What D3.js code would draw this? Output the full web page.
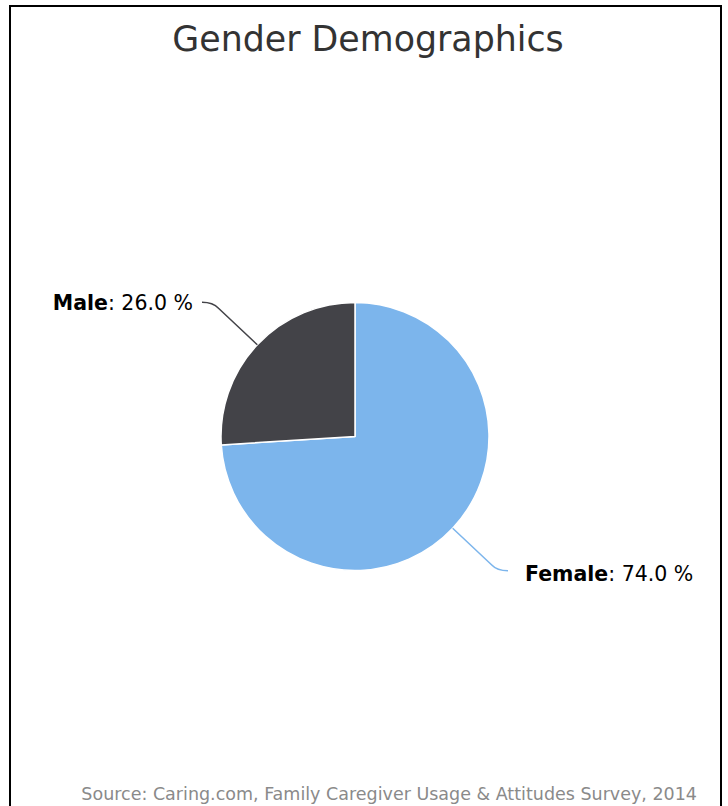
<!DOCTYPE html>
<html>
<head>
<meta charset="utf-8">
<script src="https://cdn.jsdelivr.net/npm/d3@7"></script>
<style>
  html, body { margin: 0; padding: 0; background: #fff; }
  svg { display: block; }
</style>
</head>
<body>
<svg id="chart" width="728" height="806"></svg>
<script>
const categories = ["Female", "Male"];
const values = [74.0, 26.0];
const colors = ["#7cb5ec", "#434348"];
const titleText = "Gender Demographics";
const sourceText = "Source: Caring.com, Family Caregiver Usage & Attitudes Survey, 2014";

const W = 728, H = 806;
const svg = d3.select("#chart");
const font = "'DejaVu Sans', Verdana, sans-serif";

// frame
svg.append("rect")
  .attr("x", 10).attr("y", 6)
  .attr("width", 711).attr("height", 830)
  .attr("fill", "#fff").attr("stroke", "#000").attr("stroke-width", 2);

// title
svg.append("text")
  .attr("x", 368).attr("y", 51)
  .attr("text-anchor", "middle")
  .attr("font-family", font)
  .attr("font-size", 34.8)
  .attr("fill", "#333333")
  .text(titleText);

const cx = 355, cy = 436.5, r = 134;
const g = svg.append("g").attr("transform", `translate(${cx},${cy})`);

const data = categories.map((c, i) => ({ name: c, value: values[i], color: colors[i] }));
const pie = d3.pie().sort(null).value(d => d.value).startAngle(0).endAngle(2 * Math.PI);
const arcs = pie(data);
const arc = d3.arc().innerRadius(0).outerRadius(r);

g.selectAll("path.slice")
  .data(arcs)
  .enter().append("path")
  .attr("class", "slice")
  .attr("d", arc)
  .attr("fill", d => d.data.color)
  .attr("stroke", "#ffffff")
  .attr("stroke-width", 1.5)
  .attr("stroke-linejoin", "round");

// labels + connectors
arcs.forEach(d => {
  const a = (d.startAngle + d.endAngle) / 2;
  const sx = Math.sin(a), sy = -Math.cos(a);
  const s = sx < 0 ? -1 : 1;
  const E = [sx * r, sy * r];
  const Ay = sy * (r + 62);
  const Ax = s * (r + 19);
  const by = Ay - Math.sign(sy) * 6;
  const tb = by / sy;
  const B = [sx * tb, by];
  const C = [Ax - s * 11, Ay];
  g.append("path")
    .attr("d", `M${Ax},${Ay} Q${C[0]},${C[1]} ${B[0]},${B[1]} L${E[0]},${E[1]}`)
    .attr("fill", "none")
    .attr("stroke", d.data.color)
    .attr("stroke-width", 1.5);

  const t = g.append("text")
    .attr("x", s < 0 ? Ax - 9 : Ax + 17)
    .attr("y", Ay + (s < 0 ? 8 : 10))
    .attr("text-anchor", s < 0 ? "end" : "start")
    .attr("font-family", font)
    .attr("font-size", 20.5)
    .attr("fill", "#000");
  t.append("tspan").attr("font-weight", "bold").text(d.data.name);
  t.append("tspan").text(": " + d.data.value.toFixed(1) + " %");
});

// source
svg.append("text")
  .attr("x", 697).attr("y", 800)
  .attr("text-anchor", "end")
  .attr("font-family", font)
  .attr("font-size", 17.5)
  .attr("fill", "#8a8a8a")
  .text(sourceText);
</script>
</body>
</html>
